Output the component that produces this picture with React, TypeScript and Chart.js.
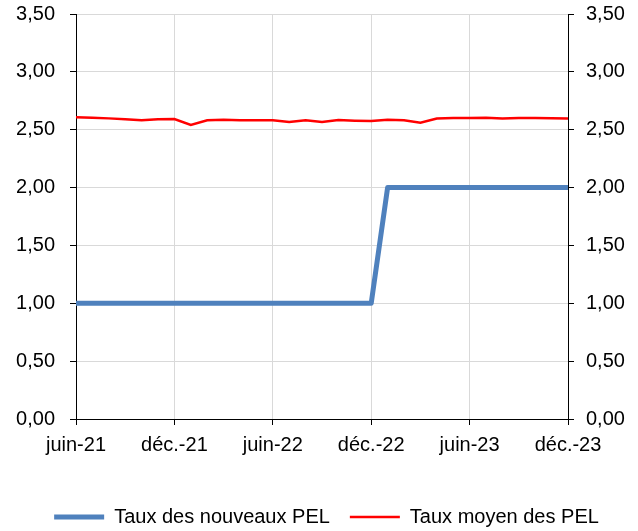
import React, { useEffect, useRef } from "react";
import { Chart, registerables } from "chart.js";

Chart.register(...registerables);

const months = [
  "juin-21", "juil.-21", "août-21", "sept.-21", "oct.-21", "nov.-21", "déc.-21",
  "janv.-22", "févr.-22", "mars-22", "avr.-22", "mai-22", "juin-22", "juil.-22",
  "août-22", "sept.-22", "oct.-22", "nov.-22", "déc.-22",
  "janv.-23", "févr.-23", "mars-23", "avr.-23", "mai-23", "juin-23", "juil.-23",
  "août-23", "sept.-23", "oct.-23", "nov.-23", "déc.-23",
];

const nouveauxPEL = [
  1.0, 1.0, 1.0, 1.0, 1.0, 1.0, 1.0, 1.0, 1.0, 1.0, 1.0, 1.0, 1.0, 1.0, 1.0, 1.0,
  1.0, 1.0, 1.0, 2.0, 2.0, 2.0, 2.0, 2.0, 2.0, 2.0, 2.0, 2.0, 2.0, 2.0, 2.0,
];

const moyenPEL = [
  2.607, 2.604, 2.598, 2.59, 2.581, 2.59, 2.593, 2.541, 2.581, 2.587, 2.581, 2.581,
  2.581, 2.567, 2.581, 2.567, 2.584, 2.578, 2.575, 2.587, 2.581, 2.561, 2.596,
  2.601, 2.601, 2.604, 2.596, 2.601, 2.601, 2.598, 2.596,
];

const seriesLabels = ["Taux des nouveaux PEL", "Taux moyen des PEL"];

const W = 638;
const H = 537;
const FONT = "'Liberation Sans', Arial, sans-serif";

const fmt = (v: number) => v.toFixed(2).replace(".", ",");

export default function App() {
  const ref = useRef<HTMLCanvasElement | null>(null);

  useEffect(() => {
    if (!ref.current) return;
    const chart = new Chart(ref.current, {
      type: "line",
      data: {
        datasets: [
          {
            label: seriesLabels[0],
            data: nouveauxPEL.map((v, i) => ({ x: i, y: v })),
            borderColor: "#4F81BD",
            backgroundColor: "#4F81BD",
            borderWidth: 5,
            borderCapStyle: "round",
            borderJoinStyle: "round",
            pointRadius: 0,
            tension: 0,
            yAxisID: "y",
          },
          {
            label: seriesLabels[1],
            data: moyenPEL.map((v, i) => ({ x: i, y: v })),
            borderColor: "#FF0000",
            backgroundColor: "#FF0000",
            borderWidth: 2.5,
            pointRadius: 0,
            tension: 0,
            yAxisID: "y",
          },
        ],
      },
      options: {
        animation: false,
        responsive: false,
        devicePixelRatio: 1,
        layout: { padding: { left: 15, right: 0, top: 14, bottom: 0 } },
        plugins: {
          tooltip: { enabled: false },
          legend: {
            position: "bottom",
            align: "center",
            labels: {
              usePointStyle: true,
              pointStyle: "line",
              pointStyleWidth: 50,
              padding: 20,
              color: "#000",
              font: { family: FONT, size: 20 },
            },
          },
        },
        scales: {
          x: {
            type: "linear",
            min: 0,
            max: months.length - 1,
            offset: false,
            afterFit: (s: any) => { s.height = 68; },
            ticks: {
              stepSize: 6,
              autoSkip: false,
              maxRotation: 0,
              padding: 8,
              color: "#000",
              font: { family: FONT, size: 20 },
              callback: (v: any) => months[Math.round(Number(v))] ?? "",
            },
            grid: { color: "#D9D9D9", lineWidth: 1, tickLength: 6, tickColor: "#000" },
            border: { color: "#000", width: 1 },
          },
          y: {
            position: "left",
            min: 0,
            max: 3.5,
            afterFit: (s: any) => { s.width = 61; s.paddingTop = 0; s.paddingBottom = 0; },
            ticks: {
              stepSize: 0.5,
              padding: 15,
              color: "#000",
              font: { family: FONT, size: 20 },
              callback: (v: any) => fmt(Number(v)),
            },
            grid: { color: "#D9D9D9", lineWidth: 1, tickLength: 6, tickColor: "#000" },
            border: { color: "#000", width: 1 },
          },
          y2: {
            position: "right",
            min: 0,
            max: 3.5,
            afterFit: (s: any) => { s.width = 70; s.paddingTop = 0; s.paddingBottom = 0; },
            ticks: {
              stepSize: 0.5,
              padding: 12,
              color: "#000",
              font: { family: FONT, size: 20 },
              callback: (v: any) => fmt(Number(v)),
            },
            grid: { drawOnChartArea: false, tickLength: 6, tickColor: "#000" },
            border: { color: "#000", width: 1 },
          },
        },
      },
    });
    return () => chart.destroy();
  }, []);

  return (
    <div style={{ position: "fixed", left: 0, top: 0, width: W, height: H, background: "#fff" }}>
      <canvas ref={ref} width={W} height={H} style={{ width: W, height: H, display: "block" }} />
    </div>
  );
}
